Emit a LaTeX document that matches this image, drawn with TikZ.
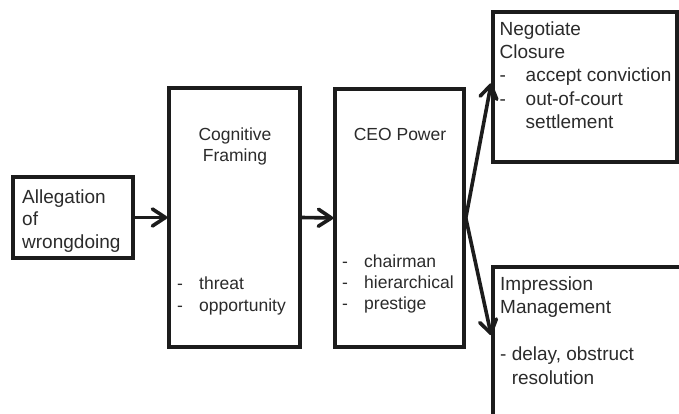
\documentclass[tikz,border=0pt]{standalone}
\usepackage{fontspec}
\setmainfont{Liberation Sans}
\usetikzlibrary{arrows.meta,calc}
\definecolor{ink}{HTML}{1C1C1C}
\definecolor{txt}{HTML}{2B2B2B}
\begin{document}
\begin{tikzpicture}[x=1pt,y=-1pt,
  box/.style={draw=ink, line width=3.6pt, fill=white, rectangle, inner sep=0pt},
  flow/.style={draw=ink, line width=3.6pt, line cap=round,
    -{Straight Barb[length=13pt,width=17pt,round]}},
  bigtext/.style={font=\fontsize{19}{23.3}\selectfont, text=txt, inner sep=0pt,
    align=left, anchor=north west},
  midtext/.style={font=\fontsize{17.5}{21.5}\selectfont, text=txt, inner sep=0pt},
]
\useasboundingbox (0,0) rectangle (679,414);
\fill[white] (0,0) rectangle (679,414);
\begin{scope}
\clip (0,0) rectangle (679,414);

% boxes
\node[box, minimum width=120pt, minimum height=81pt]  (alleg) at (73,217.5) {};
\node[box, minimum width=131pt, minimum height=259pt] (frame) at (234.5,217.5) {};
\node[box, minimum width=129pt, minimum height=258pt] (ceo)   at (399.5,218) {};
\node[box, minimum width=184pt, minimum height=150pt] (negot) at (585,87) {};
\node[box, minimum width=200pt, minimum height=170pt] (impr)  at (593,352) {};

% texts
\node[bigtext, font=\fontsize{19}{22.5}\selectfont] (allegtxt) at (22,187.2)
  {\strut Allegation\\of\\wrongdoing};

\node[midtext, anchor=north, align=center] (frametitle) at (235,125)
  {\strut Cognitive\\Framing};
\node[midtext, anchor=north west, align=left, font=\fontsize{17.5}{22}\selectfont]
  (frameitems) at (177,273.6)
  {\strut\makebox[22pt][l]{-}threat\\\makebox[22pt][l]{-}opportunity};

\node[midtext, anchor=north, align=center] (ceotitle) at (400,125)
  {\strut CEO Power};
\node[midtext, anchor=north west, align=left, font=\fontsize{17.5}{21}\selectfont]
  (ceoitems) at (342,252.3)
  {\strut\makebox[22pt][l]{-}chairman\\\makebox[22pt][l]{-}hierarchical\\\makebox[22pt][l]{-}prestige};

\node[bigtext] (negottxt) at (499.5,18.7)
  {\strut Negotiate\\Closure\\\makebox[26pt][l]{-}accept conviction\\\makebox[26pt][l]{-}out-of-court\\\hspace*{26pt}settlement};

\node[bigtext, font=\fontsize{19}{23.5}\selectfont] (imprtxt) at (500,273.6)
  {\strut Impression\\Management\\\mbox{}\\- delay, obstruct\\\phantom{- }resolution};

% connectors
\draw[flow] (alleg.east) -- (frame.west);
\draw[flow] (frame.east) -- (ceo.west);
\draw[flow] (ceo.east) -- ($(negot.north west)+(0,73)$);
\draw[flow] (ceo.east) -- ($(impr.north west)+(0,70)$);
\end{scope}
\end{tikzpicture}
\end{document}
